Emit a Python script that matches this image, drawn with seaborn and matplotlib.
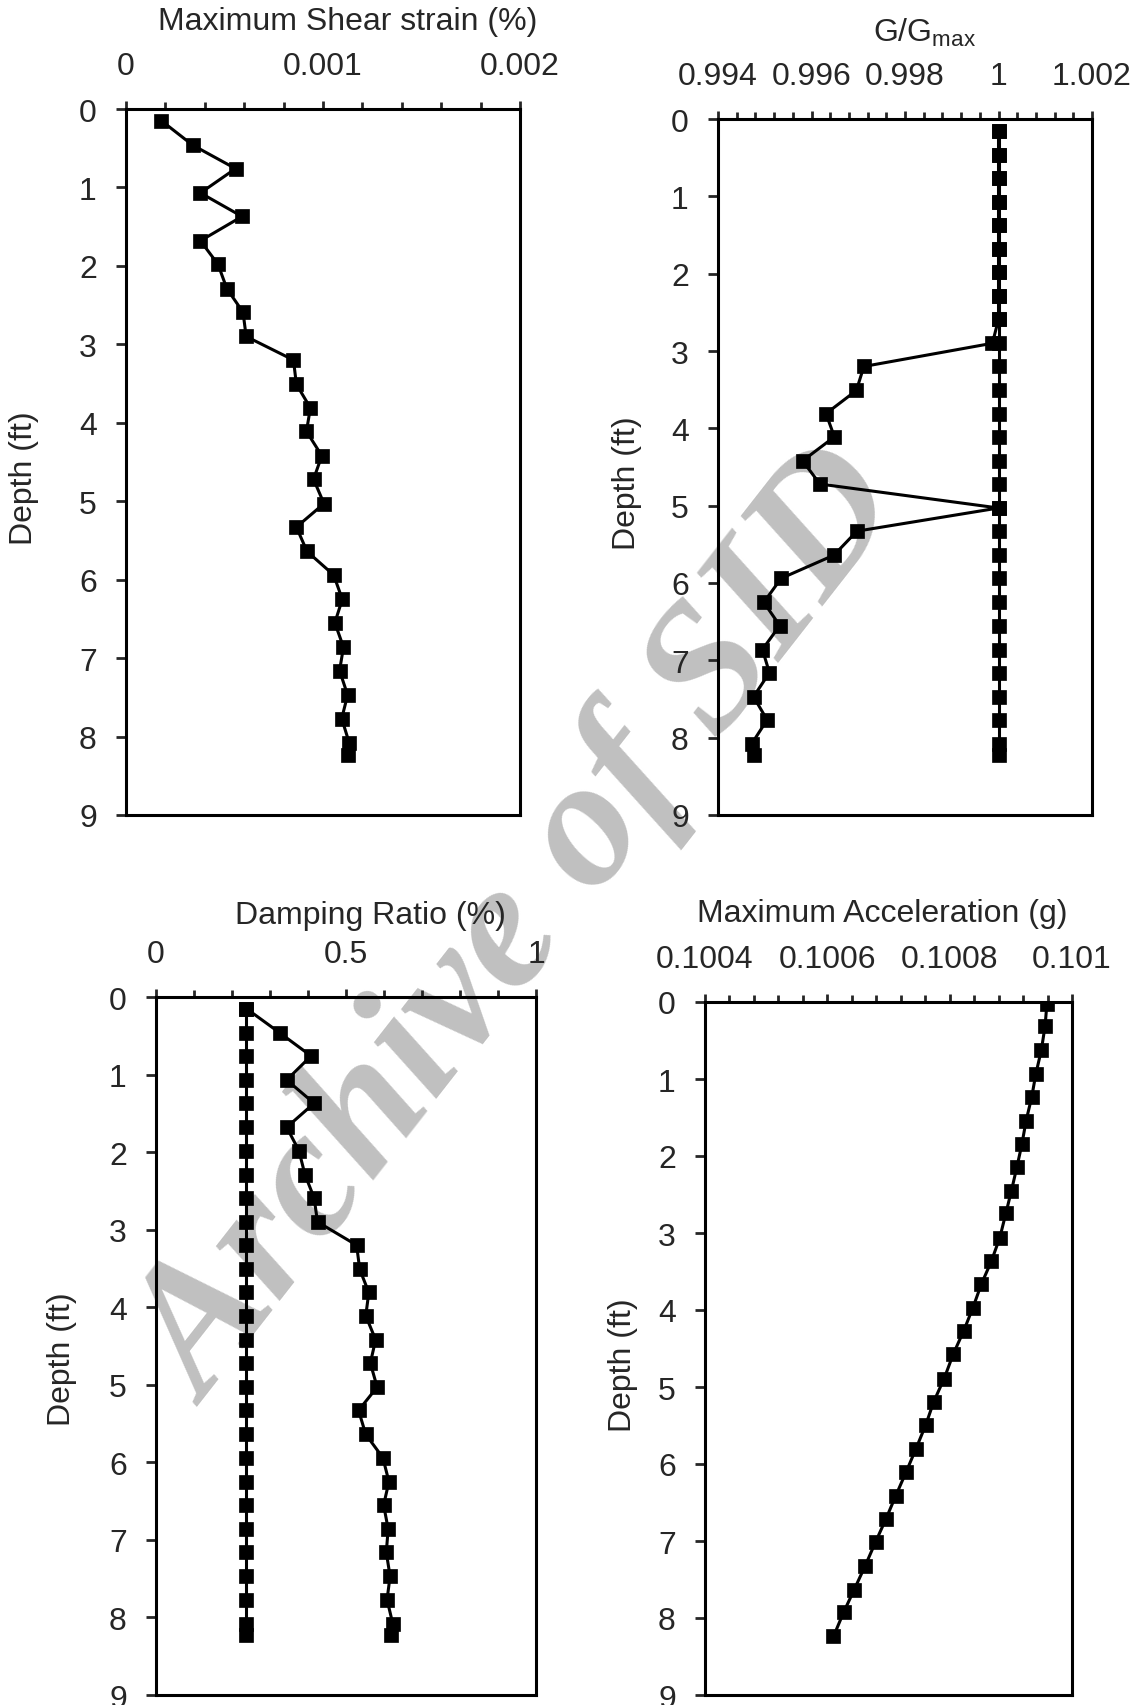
#!/usr/bin/env python3
"""
Site response profiles: strain, G/Gmax, damping and acceleration vs depth.
"""
import matplotlib
matplotlib.use('Agg')
import matplotlib.pyplot as plt
from matplotlib.ticker import FixedLocator, FixedFormatter
import seaborn as sns
import pandas as pd

# Depths (ft): layer mid-points and layer tops
depth_mid = [0.15, 0.46, 0.76, 1.07, 1.37, 1.68, 1.98, 2.29, 2.59, 2.90,
             3.20, 3.51, 3.81, 4.11, 4.42, 4.72, 5.03, 5.33, 5.64, 5.94,
             6.25, 6.55, 6.86, 7.16, 7.47, 7.77, 8.08, 8.23]
depth_top = [0.02, 0.31, 0.62, 0.93, 1.24, 1.54, 1.85, 2.14, 2.45, 2.74,
             3.06, 3.37, 3.66, 3.97, 4.27, 4.57, 4.89, 5.19, 5.49, 5.80,
             6.10, 6.41, 6.71, 7.01, 7.32, 7.63, 7.92, 8.24]

strain = [0.000180, 0.000338, 0.000556, 0.000378, 0.000589, 0.000378, 0.000467,
          0.000512, 0.000594, 0.000610, 0.000850, 0.000865, 0.000936, 0.000916,
          0.000994, 0.000952, 0.001005, 0.000865, 0.000919, 0.001054, 0.001098,
          0.001060, 0.001104, 0.001084, 0.001125, 0.001095, 0.001133, 0.001125]

gg_const = [1.0, 1.0, 1.0, 1.0, 1.0, 1.0, 1.0, 1.0, 1.0, 1.0,
            1.0, 1.0, 1.0, 1.0, 1.0, 1.0, 1.0, 1.0, 1.0, 1.0,
            1.0, 1.0, 1.0, 1.0, 1.0, 1.0, 1.0, 1.0]
gg_var = [1.0, 1.0, 1.0, 1.0, 1.0, 1.0, 1.0, 1.0, 1.0, 0.99987,
          0.99712, 0.99696, 0.99631, 0.99649, 0.99581, 0.99618, 1.0, 0.99697,
          0.99648, 0.99535, 0.99498, 0.99532, 0.99495, 0.99510, 0.99476,
          0.99505, 0.99472, 0.99478]

damp_const = [0.238, 0.238, 0.238, 0.238, 0.238, 0.238, 0.238, 0.238, 0.238, 0.238,
              0.238, 0.238, 0.238, 0.238, 0.238, 0.238, 0.238, 0.238, 0.238, 0.238,
              0.238, 0.238, 0.238, 0.238, 0.238, 0.238, 0.238, 0.238]
damp_var = [0.238, 0.325, 0.408, 0.344, 0.416, 0.344, 0.376, 0.392, 0.416, 0.425,
            0.528, 0.536, 0.560, 0.552, 0.578, 0.564, 0.582, 0.533, 0.552, 0.597,
            0.613, 0.599, 0.611, 0.606, 0.616, 0.608, 0.623, 0.618]

accel = [0.100959, 0.100956, 0.100950, 0.100941, 0.100934, 0.100925, 0.100918,
         0.100910, 0.100901, 0.100892, 0.100882, 0.100868, 0.100852, 0.100838,
         0.100823, 0.100806, 0.100791, 0.100774, 0.100761, 0.100745, 0.100729,
         0.100712, 0.100696, 0.100679, 0.100662, 0.100644, 0.100627, 0.100610]

# Axis ticks / labels
depth_ticks = [0, 1, 2, 3, 4, 5, 6, 7, 8, 9]
strain_ticks = [0, 0.001, 0.002]
strain_labels = ['0', '0.001', '0.002']
gg_ticks = [0.994, 0.996, 0.998, 1.0, 1.002]
gg_labels = ['0.994', '0.996', '0.998', '1', '1.002']
damp_ticks = [0, 0.5, 1.0]
damp_labels = ['0', '0.5', '1']
accel_ticks = [0.1004, 0.1006, 0.1008, 0.1010]
accel_labels = ['0.1004', '0.1006', '0.1008', '0.101']

FS = 23


def profile(ax, x, y):
    """Draw one depth profile with square markers."""
    df = pd.DataFrame({'x': x, 'y': y})
    sns.lineplot(data=df, x='x', y='y', ax=ax, sort=False, estimator=None,
                 color='black', linewidth=2.2, marker='s', markersize=10.5,
                 markeredgecolor='black', markeredgewidth=0.5)


def style_axis(ax, ticks, labels, n_minor, xlabel, xlab_pos, ylab_pos):
    ax.set_facecolor('none')
    ax.set_xlim(ticks[0], ticks[-1])
    ax.set_ylim(9, 0)
    step = (ticks[1] - ticks[0]) / n_minor
    minor = [ticks[0] + i * step for i in range(n_minor * (len(ticks) - 1) + 1)]
    ax.xaxis.set_major_locator(FixedLocator(ticks))
    ax.xaxis.set_major_formatter(FixedFormatter(labels))
    ax.xaxis.set_minor_locator(FixedLocator(minor))
    ax.set_yticks(depth_ticks)
    ax.set_yticklabels([str(d) for d in depth_ticks])
    ax.xaxis.tick_top()
    ax.tick_params(axis='x', which='both', top=True, bottom=False, direction='out',
                   width=2, labelsize=FS, pad=14)
    ax.tick_params(axis='x', which='major', length=6)
    ax.tick_params(axis='x', which='minor', length=5)
    ax.tick_params(axis='y', which='both', left=True, right=False, direction='out',
                   length=7, width=2, labelsize=FS, pad=14)
    for s in ax.spines.values():
        s.set_visible(True)
        s.set_linewidth(2.2)
        s.set_color('black')
    ax.set_xlabel(xlabel, fontsize=FS)
    ax.xaxis.set_label_position('top')
    ax.xaxis.label.set_va('center')
    ax.xaxis.set_label_coords(*xlab_pos)
    ax.set_ylabel('Depth (ft)', fontsize=FS, va='center')
    ax.yaxis.set_label_coords(*ylab_pos)


def main():
    sns.set_style('ticks')
    plt.rcParams['font.family'] = ['Liberation Sans', 'DejaVu Sans']
    plt.rcParams['mathtext.fontset'] = 'custom'
    plt.rcParams['mathtext.rm'] = 'Liberation Sans'
    plt.rcParams['mathtext.it'] = 'Liberation Sans:italic'

    W, H = 1137, 1706
    fig = plt.figure(figsize=(W / 100, H / 100), dpi=100)

    def box(l, t, r, b):
        return [l / W, 1 - b / H, (r - l) / W, (b - t) / H]

    ax1 = fig.add_axes(box(126, 110, 520, 816))
    ax2 = fig.add_axes(box(718, 120, 1092, 816))
    ax3 = fig.add_axes(box(156, 998, 536, 1696))
    ax4 = fig.add_axes(box(705, 1003, 1072, 1696))

    # watermark behind the plots
    fig.text(0.46, 0.455, 'Archive of SID', fontsize=132, color='#c0c0c0',
             family='Liberation Serif', style='italic', weight='bold',
             rotation=52, ha='center', va='center', zorder=-1)

    profile(ax1, strain, depth_mid)
    style_axis(ax1, strain_ticks, strain_labels, 5, 'Maximum Shear strain (%)',
               (0.563, 1.124), (-0.259, 0.479))

    profile(ax2, gg_const, depth_mid)
    profile(ax2, gg_var, depth_mid)
    style_axis(ax2, gg_ticks, gg_labels, 5, r'G/G$_{\mathrm{max}}$',
               (0.553, 1.125), (-0.243, 0.478))

    profile(ax3, damp_const, depth_mid)
    profile(ax3, damp_var, depth_mid)
    style_axis(ax3, damp_ticks, damp_labels, 5, 'Damping Ratio (%)',
               (0.563, 1.118), (-0.247, 0.483))

    profile(ax4, accel, depth_top)
    style_axis(ax4, accel_ticks, accel_labels, 5, 'Maximum Acceleration (g)',
               (0.482, 1.129), (-0.223, 0.478))

    fig.savefig('out.png', dpi=100)
    print("Plot saved to: out.png")


if __name__ == '__main__':
    main()
